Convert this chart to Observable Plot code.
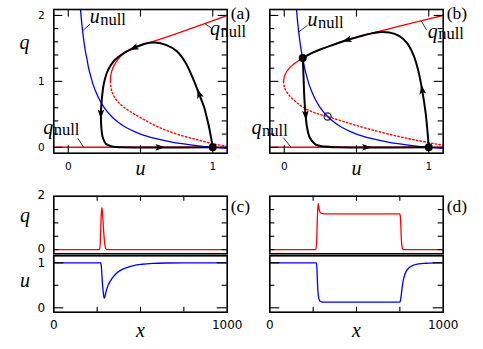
<!DOCTYPE html>
<html>
<head>
<meta charset="utf-8">
<script src="https://cdn.jsdelivr.net/npm/d3@7"></script>
<script src="https://cdn.jsdelivr.net/npm/@observablehq/plot@0.6"></script>
<style>
  html, body { margin: 0; padding: 0; background: #fff; }
  #fig { position: relative; width: 483px; height: 349px; overflow: hidden; background: #fff; }
  #fig svg { position: absolute; left: 0; top: 0; }
</style>
</head>
<body>
<div id="fig"></div>
<script>
// ---------------- data ----------------
// phase-plane tick values
const uTicks = [0, 0.5, 1];
const uTickLabels = [0, 1];
const qMajorTicks = [0, 1, 2];
const qMinorTicks = [0.2, 0.4, 0.6, 0.8, 1.2, 1.4, 1.6, 1.8];
const qTickLabels = [0, 1, 2];

// u-nullcline (blue), shared by (a) and (b): [u, q]
const uNull = [[0.075,2.35],[0.085,2.08],[0.095,1.85],[0.107,1.63],[0.12,1.44],[0.128,1.355],[0.14,1.21],[0.15,1.12],[0.17,0.965],[0.19,0.845],[0.22,0.705],[0.25,0.597],[0.3,0.466],[0.35,0.371],[0.4,0.3],[0.5,0.2],[0.6,0.134],[0.7,0.086],[0.8,0.05],[0.9,0.022],[1.0,0.0],[1.1,-0.018]];
// q-nullcline trivial branch q = 0 (red)
const qNullZero = [[-0.1,0],[1.1,0]];

// panel (a) q-nullcline: stable (solid) and unstable (dotted) branches
const qNullUpperA = [[0.292,1.0],[0.295,1.1],[0.308,1.2],[0.333,1.3],[0.372,1.4],[0.44,1.5],[0.52,1.56],[0.6,1.615],[0.73,1.71],[0.9,1.84],[1.1,2.0]];
const qNullLowerA = [[0.292,1.0],[0.296,0.9],[0.31,0.8],[0.34,0.7],[0.39,0.6],[0.46,0.5],[0.54,0.4],[0.63,0.3],[0.75,0.2],[0.9,0.11],[1.02,0.045],[1.1,0.015]];
// panel (a) trajectory
const trajA = [[1.0,0],[0.988,0.15],[0.975,0.3],[0.959,0.45],[0.94,0.61],[0.907,0.8],[0.86,1.06],[0.81,1.29],[0.75,1.46],[0.68,1.55],[0.6,1.59],[0.53,1.57],[0.46,1.51],[0.385,1.43],[0.32,1.32],[0.275,1.17],[0.247,0.97],[0.232,0.72],[0.226,0.5],[0.229,0.3],[0.24,0.14],[0.262,0.05],[0.31,0.01],[0.38,0.0],[1.0,0.0]];
const arrowsA = [{u:0.907,q:0.8,angle:-19},{u:0.46,q:1.51,angle:246},{u:0.226,q:0.52,angle:180},{u:0.628,q:0,angle:90}];
const stableA = [[1,0]];
const notesA = [{u:0.148,q:1.98,sym:"u",sub:"null"},{u:0.981,q:1.795,sym:"q",sub:"null"},{u:-0.173,q:0.305,sym:"q",sub:"null"}];
const leadersA = [{u1:0.151,q1:1.866,u2:0.103,q2:1.776},{u1:0.945,q1:1.875,u2:0.99,q2:1.81},{u1:0.067,q1:0.135,u2:0.106,q2:0.0}];

// panel (b)
const qNullUpperB = [[-0.005,1.0],[0.005,1.1],[0.035,1.2],[0.09,1.3],[0.165,1.4],[0.27,1.5],[0.39,1.6],[0.55,1.7],[0.73,1.8],[0.91,1.9],[1.1,2.0]];
const qNullLowerB = [[-0.005,1.0],[0.003,0.9],[0.03,0.8],[0.075,0.7],[0.135,0.6],[0.215,0.52],[0.3,0.466],[0.425,0.38],[0.58,0.28],[0.76,0.18],[0.93,0.1],[1.1,0.03]];
const trajB1 = [[1.0,0],[0.996,0.12],[0.99,0.27],[0.978,0.53],[0.955,0.86],[0.93,1.14],[0.896,1.39],[0.85,1.58],[0.795,1.69],[0.725,1.74],[0.655,1.745],[0.59,1.72],[0.52,1.68],[0.44,1.63],[0.36,1.57],[0.27,1.5],[0.2,1.44],[0.128,1.355]];
const trajB2 = [[0.128,1.355],[0.133,1.1],[0.138,0.8],[0.146,0.53],[0.158,0.3],[0.178,0.14],[0.215,0.045],[0.28,0.01],[0.37,0],[1.0,0]];
const arrowsB = [{u:0.955,q:0.86,angle:-9},{u:0.44,q:1.63,angle:254},{u:0.148,q:0.5,angle:175},{u:0.563,q:0,angle:90}];
const stableB = [[0.128,1.355],[1,0]];
const unstableB = [[0.3,0.466]];
const notesB = [{u:0.161,q:1.938,sym:"u",sub:"null"},{u:0.993,q:1.76,sym:"q",sub:"null"},{u:-0.226,q:0.291,sym:"q",sub:"null"}];
const leadersB = [{u1:0.161,q1:1.85,u2:0.102,q2:1.753},{u1:0.947,q1:1.92,u2:0.985,q2:1.78},{u1:-0.007,q1:0.147,u2:0.047,q2:0.0}];

// space profiles (c), (d): [x, value]
const xTicks = [250, 500, 750];
const xTickLabels = [0, 1000];
const qProfTicks = [0, 0.5, 1, 1.5];
const qProfLabels = [0, 2];
const uProfMajor = [0, 1];
const uProfMinor = [0.5];
const uProfLabels = [0, 1];

const qProfileC = [[0,0],[264,0],[268,0.25],[271,0.8],[274,1.35],[277,1.57],[280,1.45],[284,1.05],[289,0.55],[294,0.2],[299,0.05],[305,0],[1000,0]];
const uProfileC = [[0,1],[271,1],[274,0.93],[277,0.75],[281,0.52],[285,0.35],[289,0.24],[292,0.215],[296,0.27],[303,0.38],[312,0.49],[322,0.57],[335,0.65],[352,0.73],[372,0.8],[395,0.855],[425,0.9],[460,0.94],[510,0.968],[570,0.986],[650,0.996],[760,1],[1000,1]];
const qProfileD = [[0,0],[266,0],[270,0.3],[273,0.9],[276,1.45],[279,1.72],[282,1.62],[286,1.47],[291,1.39],[298,1.355],[315,1.34],[600,1.34],[748,1.34],[752,1.28],[755,1.0],[758,0.5],[761,0.18],[765,0.03],[770,0],[1000,0]];
const uProfileD = [[0,1],[268,1],[271,0.92],[274,0.65],[277,0.4],[281,0.24],[286,0.17],[293,0.14],[305,0.128],[330,0.125],[748,0.125],[752,0.14],[756,0.22],[760,0.35],[765,0.5],[771,0.63],[778,0.73],[788,0.82],[800,0.88],[815,0.925],[835,0.957],[860,0.977],[900,0.99],[960,0.998],[1000,1]];

// ---------------- drawing ----------------
const W = 483, H = 349;
const SERIF = "'Liberation Serif', 'Times New Roman', serif";
const SANS = "'DejaVu Sans', sans-serif";
const RED = "#ff0000", BLUE = "#0000ff";
const plain = d => String(d);

const arrowSymbol = {
  draw(ctx, size) {
    const s = Math.sqrt(size / Math.PI);
    ctx.moveTo(0, -1.4 * s);
    ctx.lineTo(0.8 * s, 0.85 * s);
    ctx.lineTo(0, 0.35 * s);
    ctx.lineTo(-0.8 * s, 0.85 * s);
    ctx.closePath();
  }
};

const px = d => d[0], py = d => d[1];

function ticksX(values, len, side, ih) {
  return Plot.tickX(values, {x: d => d, stroke: "black", strokeWidth: 1.1,
    insetTop: side === "bottom" ? ih - len : 0,
    insetBottom: side === "top" ? ih - len : 0});
}
function ticksY(values, len, side, iw) {
  return Plot.tickY(values, {y: d => d, stroke: "black", strokeWidth: 1.1,
    insetLeft: side === "right" ? iw - len : 0,
    insetRight: side === "left" ? iw - len : 0});
}

function render(frame, xDomain, yDomain, marks) {
  const [L, T, R, B] = frame;
  const svg = Plot.plot({
    width: W, height: H,
    marginLeft: L, marginTop: T, marginRight: W - R, marginBottom: H - B,
    x: {domain: xDomain, axis: null},
    y: {domain: yDomain, axis: null},
    style: {background: "transparent", overflow: "visible"},
    marks
  });
  document.getElementById("fig").appendChild(svg);
}

// italic axis letter placed relative to the frame
function letter(s, frameAnchor, dx, dy) {
  return Plot.text([s], {frameAnchor, textAnchor: "middle", lineAnchor: "middle", dx, dy,
    fontFamily: SERIF, fontStyle: "italic", fontSize: 20});
}

function phasePanel(frame, cfg) {
  const [L, T, R, B] = frame;
  const iw = R - L, ih = B - T;
  const marks = [
    Plot.line(qNullZero, {x: px, y: py, stroke: RED, strokeWidth: 1.3, clip: true}),
    Plot.line(cfg.lower, {x: px, y: py, stroke: RED, strokeWidth: 1.4, strokeDasharray: "1.4,2.4", curve: "catmull-rom", clip: true}),
    Plot.line(cfg.upper, {x: px, y: py, stroke: RED, strokeWidth: 1.3, curve: "catmull-rom", clip: true}),
    Plot.line(uNull, {x: px, y: py, stroke: BLUE, strokeWidth: 1.3, curve: "catmull-rom", clip: true}),
    ...cfg.traj.map(tr => Plot.line(tr, {x: px, y: py, stroke: "black", strokeWidth: 2, curve: "catmull-rom", strokeLinejoin: "round"})),
    Plot.dot(cfg.arrows, {x: "u", y: "q", rotate: "angle", symbol: arrowSymbol, r: 4.2, fill: "black", stroke: "none"}),
    Plot.dot(cfg.stable, {x: px, y: py, r: 4, fill: "black", stroke: "none"}),
    Plot.dot(cfg.unstable || [], {x: px, y: py, r: 3.6, fill: "none", stroke: "#222", strokeWidth: 1.2}),
    Plot.link(cfg.leaders, {x1: "u1", y1: "q1", x2: "u2", y2: "q2", stroke: "black", strokeWidth: 0.8}),
    Plot.text(cfg.notes, {x: "u", y: "q", text: "sym", textAnchor: "start", lineAnchor: "middle", fontFamily: SERIF, fontStyle: "italic", fontSize: 20, fill: "black"}),
    Plot.text(cfg.notes, {x: "u", y: "q", text: "sub", textAnchor: "start", lineAnchor: "middle", dx: 10.5, dy: 2.9, fontFamily: SERIF, fontSize: 16.5, fill: "black"}),
    Plot.frame({stroke: "black", strokeWidth: 1.6}),
    ticksX(uTicks, 7.5, "bottom", ih),
    ticksX(uTicks, 7.5, "top", ih),
    ticksY(qMajorTicks, 9, "left", iw),
    ticksY(qMajorTicks, 9, "right", iw),
    ticksY(qMinorTicks, 5, "left", iw),
    ticksY(qMinorTicks, 5, "right", iw),
    Plot.text(uTickLabels, {x: d => d, text: plain, frameAnchor: "bottom", textAnchor: "middle", lineAnchor: "middle", dy: 13.3, fontFamily: SANS, fontSize: 10.5}),
    letter("u", "bottom", 0, 15.3),
    Plot.text([cfg.label], {frameAnchor: "top-right", textAnchor: "start", lineAnchor: "middle", dx: 3.5, dy: 3.5, fontFamily: SERIF, fontSize: 17.5})
  ];
  if (cfg.yLabels) {
    marks.push(Plot.text(qTickLabels, {y: d => d, text: plain, frameAnchor: "left", textAnchor: "end", lineAnchor: "middle", dx: -9, fontFamily: SANS, fontSize: 10.5}));
    marks.push(letter("q", "top-left", -29.3, 33.5));
  }
  render(frame, [-0.1, 1.1], [-0.09, 2.09], marks);
}

function profilePanels(xL, xR, cfg) {
  const fq = [xL, 195.7, xR, 253.3];
  const fu = [xL, 255.3, xR, 311.7];
  const iw = xR - xL;
  const qMarks = [
    Plot.line(cfg.q, {x: px, y: py, stroke: RED, strokeWidth: 1.3, curve: "monotone-x", clip: true}),
    Plot.frame({stroke: "black", strokeWidth: 1.6}),
    ticksX(xTicks, 5, "top", fq[3] - fq[1]),
    ticksY(qProfTicks, 5, "left", iw),
    ticksY(qProfTicks, 5, "right", iw),
    Plot.text([cfg.label], {frameAnchor: "top-right", textAnchor: "start", lineAnchor: "middle", dx: 3.5, dy: 10, fontFamily: SERIF, fontSize: 17.5})
  ];
  const uMarks = [
    Plot.line(cfg.u, {x: px, y: py, stroke: BLUE, strokeWidth: 1.3, curve: "monotone-x", clip: true}),
    Plot.frame({stroke: "black", strokeWidth: 1.6}),
    ticksX(xTicks, 5, "bottom", fu[3] - fu[1]),
    ticksY(uProfMajor, 10, "left", iw),
    ticksY(uProfMajor, 10, "right", iw),
    ticksY(uProfMinor, 5, "left", iw),
    ticksY(uProfMinor, 5, "right", iw),
    Plot.text(xTickLabels, {x: d => d, text: plain, frameAnchor: "bottom", textAnchor: "middle", lineAnchor: "middle", dy: 13, fontFamily: SANS, fontSize: 12}),
    letter("x", "bottom", 0, 18)
  ];
  if (cfg.yLabels) {
    qMarks.push(Plot.text(qProfLabels, {y: d => d, text: plain, frameAnchor: "left", textAnchor: "end", lineAnchor: "middle", dx: -8.7, dy: -0.8, fontFamily: SANS, fontSize: 12}));
    qMarks.push(letter("q", "top-left", -28.7, 19.1));
    uMarks.push(Plot.text(uProfLabels, {y: d => d, text: plain, frameAnchor: "left", textAnchor: "end", lineAnchor: "middle", dx: -8.7, dy: 0.8, fontFamily: SANS, fontSize: 12}));
    uMarks.push(letter("u", "top-left", -28.7, 24.7));
  }
  render(fq, [0, 1000], [-0.157, 2], qMarks);
  render(fu, [0, 1000], [-0.098, 1.156], uMarks);
}

phasePanel([53.3, 9, 226.7, 152.7], {
  upper: qNullUpperA, lower: qNullLowerA, traj: [trajA], arrows: arrowsA,
  stable: stableA, notes: notesA, leaders: leadersA, label: "(a)", yLabels: true
});
phasePanel([269.3, 9, 442.7, 152.7], {
  upper: qNullUpperB, lower: qNullLowerB, traj: [trajB1, trajB2], arrows: arrowsB,
  stable: stableB, unstable: unstableB, notes: notesB, leaders: leadersB, label: "(b)", yLabels: false
});
profilePanels(53.3, 226.7, {q: qProfileC, u: uProfileC, label: "(c)", yLabels: true});
profilePanels(269.3, 442.7, {q: qProfileD, u: uProfileD, label: "(d)", yLabels: false});
</script>
</body>
</html>
